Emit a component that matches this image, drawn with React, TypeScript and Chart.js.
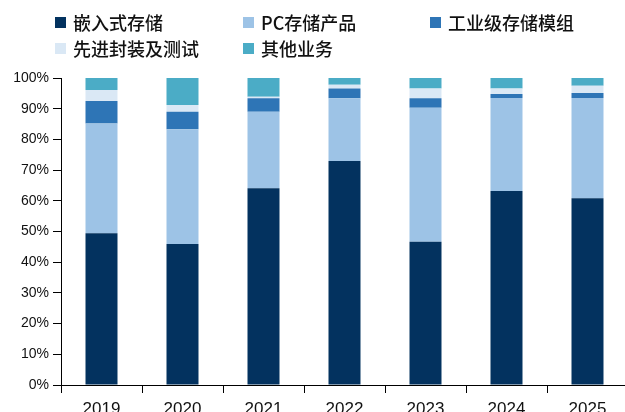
import React, { useEffect, useRef } from "react";
import { Chart, registerables } from "chart.js";

Chart.register(...registerables);

const categories = ["2019", "2020", "2021", "2022", "2023", "2024", "2025"];
const embedded = [49.4, 45.9, 64.1, 73.0, 46.7, 63.2, 60.8];
const pcStorage = [35.8, 37.4, 24.9, 20.4, 43.6, 30.3, 32.7];
const industrial = [7.3, 5.7, 4.4, 3.2, 3.1, 1.3, 1.6];
const packaging = [3.6, 2.2, 0.5, 1.2, 3.2, 1.8, 2.4];
const others = [3.9, 8.8, 6.1, 2.2, 3.4, 3.4, 2.5];

const seriesNames = ["嵌入式存储", "PC存储产品", "工业级存储模组", "先进封装及测试", "其他业务"];
const seriesColors = ["#03325f", "#9dc3e6", "#2e75b6", "#dae8f5", "#4bacc6"];
const yTicks = [0, 10, 20, 30, 40, 50, 60, 70, 80, 90, 100];

const legendPlugin = {
  id: "customLegend",
  afterDraw(chart: any) {
    const ctx = chart.ctx;
    const xs = [55, 243, 430, 55, 243];
    const ys = [22, 22, 22, 48, 48];
    ctx.save();
    ctx.font = '500 18px "Noto Sans CJK SC"';
    ctx.textBaseline = "middle";
    ctx.textAlign = "left";
    chart.data.datasets.forEach((ds: any, i: number) => {
      ctx.fillStyle = ds.backgroundColor;
      ctx.fillRect(xs[i], ys[i] - 5, 11, 11);
      ctx.fillStyle = "#111";
      ctx.fillText(ds.label, xs[i] + 18, ys[i] + 1);
    });
    ctx.restore();
  },
};

export default function App() {
  const ref = useRef<HTMLCanvasElement | null>(null);
  useEffect(() => {
    if (!ref.current) return;
    const values = [embedded, pcStorage, industrial, packaging, others];
    const chart = new Chart(ref.current, {
      type: "bar",
      data: {
        labels: categories,
        datasets: values.map((v, i) => ({
          label: seriesNames[i],
          data: v,
          backgroundColor: seriesColors[i],
          borderWidth: 0,
          barPercentage: 0.395,
          categoryPercentage: 1,
        })),
      },
      options: {
        responsive: false,
        animation: false,
        layout: { padding: { top: 78, right: 2, left: 0, bottom: 0 } },
        plugins: { legend: { display: false }, tooltip: { enabled: false } },
        scales: {
          x: {
            stacked: true,
            grid: { drawOnChartArea: false, drawTicks: true, tickLength: 8, color: "#000", offset: true },
            border: { color: "#000", width: 1 },
            ticks: { color: "#111", font: { family: '"Liberation Sans", Arial, sans-serif', size: 17 }, padding: 6, maxRotation: 0 },
            afterFit(scale: any) {
              scale.height = 27;
            },
          },
          y: {
            stacked: true,
            min: 0,
            max: 100,
            afterBuildTicks(scale: any) {
              scale.ticks = yTicks.map((v) => ({ value: v }));
            },
            grid: { drawOnChartArea: false, drawTicks: true, tickLength: 8, color: "#000" },
            border: { color: "#000", width: 1 },
            ticks: {
              color: "#111",
              font: { family: '"Liberation Sans", Arial, sans-serif', size: 14 },
              padding: 4,
              callback: (v: any) => v + "%",
            },
            afterFit(scale: any) {
              scale.width = 61;
            },
          },
        },
      },
      plugins: [legendPlugin],
    });
    return () => chart.destroy();
  }, []);
  return (
    <div style={{ position: "absolute", left: 0, top: 0, width: 625, height: 412, overflow: "hidden", background: "#fff" }}>
      <canvas ref={ref} width={630} height={412} style={{ display: "block" }} />
    </div>
  );
}
